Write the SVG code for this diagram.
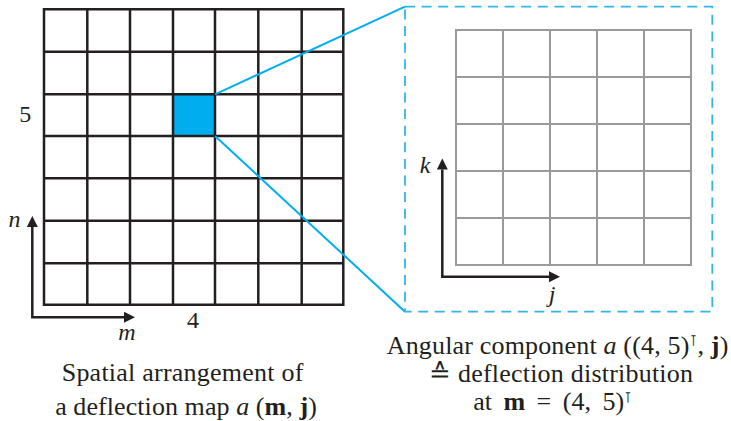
<svg xmlns="http://www.w3.org/2000/svg" width="731" height="421" viewBox="0 0 731 421">
  <style>
    .grid-dark { stroke: #231F20; stroke-width: 2.5; fill: none; stroke-linecap: square; }
    .grid-gray { stroke: #9A9A9A; stroke-width: 2; fill: none; stroke-linecap: square; }
    .axis { stroke: #231F20; stroke-width: 2.5; fill: none; stroke-linejoin: miter; }
    .blue { stroke: #00AEEF; stroke-width: 2; fill: none; }
    .dash { stroke: #33B5EA; stroke-width: 1.8; fill: none; stroke-dasharray: 10 6.6; }
    .txt { font-family: "Liberation Serif", "DejaVu Serif", serif; fill: #231F20; }
    .lbl { font-size: 24px; }
    .it { font-style: italic; }
    .bf { font-weight: bold; }
    .sup { font-family: "DejaVu Sans", "Liberation Sans", sans-serif; font-size: 15px; }
  </style>
  <defs>
    <marker id="arrow" markerUnits="userSpaceOnUse" markerWidth="12" markerHeight="12" viewBox="0 -6 12 12" refX="0" refY="0" orient="auto-start-reverse">
      <path d="M0,-5.5 L11,0 L0,5.5 z" fill="#231F20"/>
    </marker>
  </defs>

  <!-- Left grid: spatial arrangement 7x7 -->
  <g id="spatial-grid">
    <rect x="173" y="94.3" width="42" height="41.7" fill="#00AEEF"/>
    <path class="grid-dark" d="M44,9.3 V304.7 M87.3,9.3 V304.7 M130,9.3 V304.7 M173,9.3 V304.7 M215,9.3 V304.7 M258.3,9.3 V304.7 M301.7,9.3 V304.7 M343.3,9.3 V304.7
      M44,9.3 H343.3 M44,51.7 H343.3 M44,94.3 H343.3 M44,136 H343.3 M44,178.3 H343.3 M44,220.7 H343.3 M44,263.3 H343.3 M44,304.7 H343.3"/>
  </g>

  <!-- Connectors (zoom lines) -->
  <g id="connectors">
    <line class="blue" x1="215" y1="94.3" x2="405" y2="6.7"/>
    <line class="blue" x1="215" y1="136" x2="405" y2="311.7"/>
  </g>

  <!-- Zoom box -->
  <g id="zoom-box">
    <rect class="dash" x="405" y="6.7" width="307.3" height="305"/>
  </g>

  <!-- Right grid: angular component 5x5 -->
  <g id="angular-grid">
    <path class="grid-gray" d="M456,30 V265 M503,30 V265 M550,30 V265 M597,30 V265 M644,30 V265 M691,30 V265
      M456,30 H691 M456,77 H691 M456,124 H691 M456,171 H691 M456,218 H691 M456,265 H691"/>
  </g>

  <!-- Axes -->
  <g id="axes-left">
    <path class="axis" d="M32.3,227 V317.3 H124" marker-start="url(#arrow)" marker-end="url(#arrow)"/>
    <text class="txt lbl it" x="14.5" y="227" text-anchor="middle">n</text>
    <text class="txt lbl it" x="127" y="340" text-anchor="middle">m</text>
    <text class="txt lbl" x="193" y="328" text-anchor="middle">4</text>
    <text class="txt lbl" x="25.3" y="121.5" text-anchor="middle">5</text>
  </g>
  <g id="axes-right">
    <path class="axis" d="M442.3,169.5 V276.7 H549" marker-start="url(#arrow)" marker-end="url(#arrow)"/>
    <text class="txt lbl it" x="425" y="173" text-anchor="middle">k</text>
    <text class="txt lbl it" x="552" y="302" text-anchor="middle">j</text>
  </g>

  <!-- Captions -->
  <g id="caption-left">
    <text class="txt" font-size="26" x="182.5" y="381" text-anchor="middle" textLength="241.6" lengthAdjust="spacing">Spatial arrangement of</text>
    <text class="txt" font-size="26" x="186" y="415" text-anchor="middle" textLength="261.7" lengthAdjust="spacing">a deflection map <tspan class="it">a</tspan> (<tspan class="bf">m</tspan>, <tspan class="bf">j</tspan>)</text>
  </g>
  <g id="caption-right">
    <text class="txt" font-size="26" x="557.5" y="354" text-anchor="middle" textLength="341.6" lengthAdjust="spacing">Angular component <tspan class="it">a</tspan> ((4, 5)<tspan class="sup" dy="-8">⊺</tspan><tspan dy="8">, </tspan><tspan class="bf">j</tspan>)</text>
    <text class="txt" font-size="26" x="561" y="382" text-anchor="middle" textLength="264" lengthAdjust="spacing">≙ deflection distribution</text>
    <text class="txt" font-size="26" x="552.5" y="410" text-anchor="middle" word-spacing="5">at <tspan class="bf">m</tspan> = (4, 5)<tspan class="sup" dy="-7">⊺</tspan></text>
  </g>
</svg>
